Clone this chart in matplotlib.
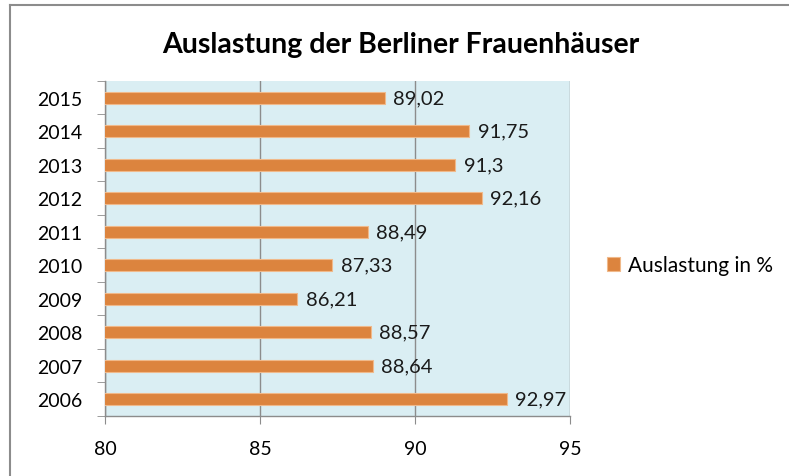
import matplotlib
matplotlib.use("Agg")
import matplotlib.pyplot as plt
from matplotlib.lines import Line2D

# ── data ───────────────────────────────────────────────────────────────────────
years = ["2006", "2007", "2008", "2009", "2010", "2011", "2012", "2013", "2014", "2015"]
auslastung = [92.97, 88.64, 88.57, 86.21, 87.33, 88.49, 92.16, 91.3, 91.75, 89.02]
labels = ["92,97", "88,64", "88,57", "86,21", "87,33", "88,49", "92,16", "91,3", "91,75", "89,02"]
x_ticks = [80, 85, 90, 95]

plt.rcParams["font.family"] = ["Lato", "DejaVu Sans"]

bar_color = "#DC843E"
edge_color = "#F0B98A"
bg_color = "#DAEEF3"
grid_color = "#8C8C8C"

fig = plt.figure(figsize=(7.89, 4.77), dpi=100)
ax = fig.add_axes([0.133, 0.1258, 0.5894, 0.7023])
ax.set_facecolor(bg_color)

pos = list(range(len(years)))
bars = ax.barh(pos, auslastung, height=0.36, left=0, color=bar_color,
               edgecolor=edge_color, linewidth=0.8, zorder=3,
               label="Auslastung in %")

for p, v, lab in zip(pos, auslastung, labels):
    ax.annotate(lab, (v, p), xytext=(6, 0), textcoords="offset points",
                va="center", ha="left", fontsize=14.5, color="#1a1a1a")

ax.set_xlim(80, 95)
ax.set_ylim(-0.5, len(years) - 0.5)
ax.set_xticks(x_ticks)
ax.set_xticklabels([str(t) for t in x_ticks], fontsize=14)
ax.set_yticks(pos)
ax.set_yticklabels(years, fontsize=14)
ax.set_yticks([p - 0.5 for p in pos] + [len(years) - 0.5], minor=True)

ax.tick_params(axis="y", which="major", length=0, pad=16)
ax.tick_params(axis="y", which="minor", length=6, color=grid_color, direction="out")
ax.tick_params(axis="x", length=6, color=grid_color, direction="out", pad=11)

ax.xaxis.grid(True, color=grid_color, linewidth=1.0, zorder=1)
ax.set_axisbelow(True)
for s in ["top", "right"]:
    ax.spines[s].set_visible(False)
for s in ["left", "bottom"]:
    ax.spines[s].set_color(grid_color)
    ax.spines[s].set_linewidth(1.0)

fig.text(0.508, 0.906, "Auslastung der Berliner Frauenhäuser",
         ha="center", va="center", fontsize=20.5, fontweight="bold")

ax.legend(loc="center left", bbox_to_anchor=(1.04, 0.45), frameon=False,
          fontsize=15, handlelength=0.6, handleheight=0.6, handletextpad=0.4)

# chart frame (only the top and left edges are visible in the crop)
fig.add_artist(Line2D([0.013, 0.013], [0.0, 0.987], color="#8C8C8C", linewidth=1.5,
                      transform=fig.transFigure))
fig.add_artist(Line2D([0.013, 1.0], [0.987, 0.987], color="#8C8C8C", linewidth=1.5,
                      transform=fig.transFigure))

fig.savefig("out.png", dpi=100)
